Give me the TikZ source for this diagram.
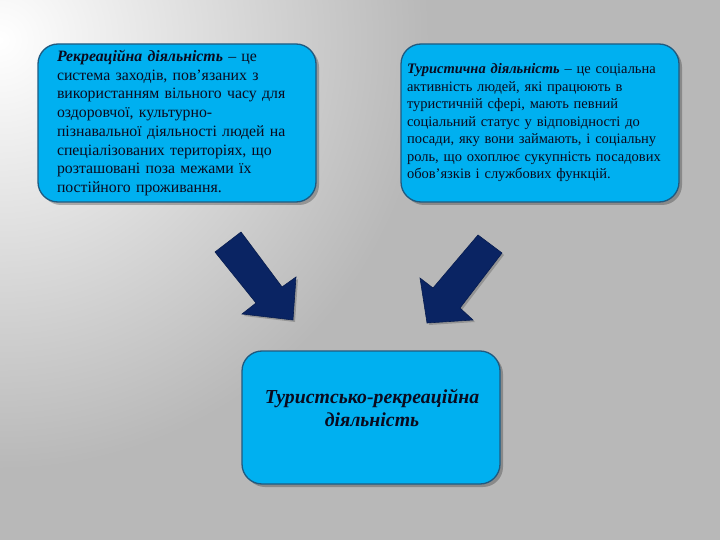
\documentclass[tikz,border=0pt]{standalone}
\usepackage{fontspec}
\setmainfont{Liberation Serif}
\usetikzlibrary{shadows}
\definecolor{bggray}{HTML}{B8B8B8}
\definecolor{boxfill}{HTML}{00B0F0}
\definecolor{boxline}{HTML}{1F5A80}
\definecolor{arrowfill}{HTML}{0A2463}
\definecolor{txt}{HTML}{0A0A1E}
\tikzset{
  infobox/.style={draw=boxline, line width=1.3pt, fill=boxfill, rounded corners=20pt,
    drop shadow={shadow xshift=3pt, shadow yshift=-3pt, opacity=0.25, fill=black},
    text=txt, align=left},
  blockarrow/.style={fill=arrowfill, draw=arrowfill!80!black, line width=0.6pt, line join=miter,
    drop shadow={shadow xshift=2pt, shadow yshift=-2pt, opacity=0.2, fill=black}}
}
\begin{document}
\begin{tikzpicture}[x=1pt,y=-1pt]
\useasboundingbox (0,0) rectangle (720,540);
\fill[bggray] (0,0) rectangle (720,540);
\begin{scope}
  \clip (0,0) rectangle (720,540);
  \shade[inner color=white, outer color=bggray] (0,40) circle[radius=430];
\end{scope}

\node[infobox, minimum width=278pt, minimum height=158pt, text width=240pt, inner xsep=19pt,
  font=\fontsize{15.8}{18.7}\selectfont] (b1) at (177,123)
 {\textbf{\textit{Рекреаційна діяльність}} – це\\
  система заходів, пов’язаних з\\
  використанням вільного часу для\\
  оздоровчої, культурно-\\
  пізнавальної діяльності людей на\\
  спеціалізованих територіях, що\\
  розташовані поза межами їх\\
  постійного проживання.};

\node[infobox, minimum width=278pt, minimum height=158pt, text width=266pt, inner xsep=6pt,
  font=\fontsize{14.5}{17.5}\selectfont] (b2) at (540,123)
 {\textbf{\textit{Туристична діяльність}} – це соціальна\\
  активність людей, які працюють в\\
  туристичній сфері, мають певний\\
  соціальний статус у відповідності до\\
  посади, яку вони займають, і соціальну\\
  роль, що охоплює сукупність посадових\\
  обов'язків і службових функцій.};

\node[infobox, minimum width=258pt, minimum height=133pt] (b3) at (371,417.5) {};
\node[align=center, text=txt, font=\fontsize{19.8}{23}\selectfont\bfseries\itshape] (t3) at (372,408)
 {Туристсько-рекреаційна\\діяльність};

% left block arrow
\draw[blockarrow] (215,252) -- (241,232) -- (282,287) -- (296,277) -- (293,320) -- (242,314) -- (256,303) -- cycle;
% right block arrow
\draw[blockarrow] (478,235) -- (502,253) -- (460,308) -- (473,320) -- (427,323) -- (420,278) -- (433,288) -- cycle;
\end{tikzpicture}
\end{document}
